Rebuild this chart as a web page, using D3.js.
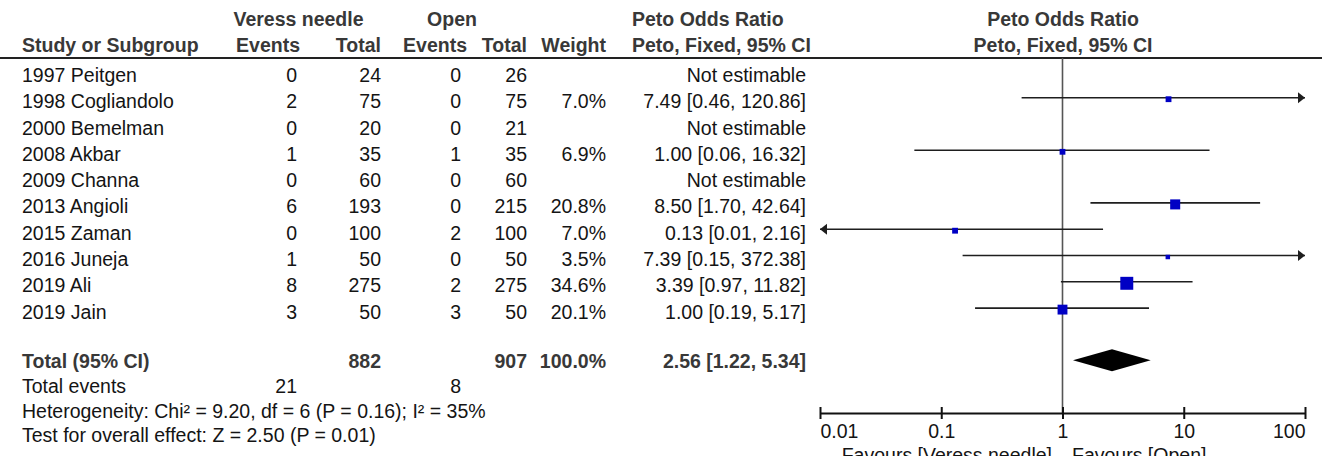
<!DOCTYPE html>
<html>
<head>
<meta charset="utf-8">
<script src="https://cdn.jsdelivr.net/npm/d3@7"></script>
<style>
  body { margin: 0; background: #fff; }
  svg { display: block; font-family: "Liberation Sans", Arial, sans-serif; }
</style>
</head>
<body>
<div id="forest"></div>
<script>
// study rows
const studies = ["1997 Peitgen", "1998 Cogliandolo", "2000 Bemelman", "2008 Akbar", "2009 Channa",
  "2013 Angioli", "2015 Zaman", "2016 Juneja", "2019 Ali", "2019 Jain"]
const veressEvents = [0, 2, 0, 1, 0, 6, 0, 1, 8, 3]
const veressTotal = [24, 75, 20, 35, 60, 193, 100, 50, 275, 50]
const openEvents = [0, 0, 0, 1, 0, 0, 2, 0, 2, 3]
const openTotal = [26, 75, 21, 35, 60, 215, 100, 50, 275, 50]
const weights = [null, 7.0, null, 6.9, null, 20.8, 7.0, 3.5, 34.6, 20.1]
const oddsRatio = [null, 7.49, null, 1.00, null, 8.50, 0.13, 7.39, 3.39, 1.00]
const ciLow = [null, 0.46, null, 0.06, null, 1.70, 0.01, 0.15, 0.97, 0.19]
const ciHigh = [null, 120.86, null, 16.32, null, 42.64, 2.16, 372.38, 11.82, 5.17]

// pooled result
const totalVeress = 882
const totalOpen = 907
const totalEventsVeress = 21
const totalEventsOpen = 8
const pooled = [2.56, 1.22, 5.34]
const pooledLabel = "2.56 [1.22, 5.34]"
const heterogeneity = "Heterogeneity: Chi² = 9.20, df = 6 (P = 0.16); I² = 35%"
const overallTest = "Test for overall effect: Z = 2.50 (P = 0.01)"

// axis
const axisTicks = [0.01, 0.1, 1, 10, 100]
const axisLabels = ["0.01", "0.1", "1", "10", "100"]

const width = 1322, height = 456
const fs = 19.5
const textCol = "#141414", headCol = "#383838"

const svg = d3.select("#forest").append("svg")
  .attr("width", width)
  .attr("height", height)

const x = d3.scaleLog().domain([0.01, 100]).range([820, 1305])
const y = d3.scalePoint().domain(d3.range(studies.length)).range([71.4, 308.1])
const totalY = 360.3
const axisY = 413

// column right edges (values / headers)
const col = { vEv: 297, vEvH: 300, vTot: 381, oEv: 461, oEvH: 467, oTot: 527, wt: 606, ci: 806 }

function txt(g, xx, yy, s, anchor, bold, color) {
  return g.append("text")
    .attr("x", xx).attr("y", yy)
    .attr("text-anchor", anchor || "start")
    .attr("font-size", fs)
    .attr("font-weight", bold ? "bold" : "normal")
    .attr("fill", color || textCol)
    .text(s)
}

// header
const head = svg.append("g")
txt(head, 298.5, 25.5, "Veress needle", "middle", true, headCol)
txt(head, 452, 25.5, "Open", "middle", true, headCol)
txt(head, 632, 25.5, "Peto Odds Ratio", "start", true, headCol)
txt(head, 1063, 25.5, "Peto Odds Ratio", "middle", true, headCol)
txt(head, 22, 52, "Study or Subgroup", "start", true, headCol)
txt(head, col.vEvH, 52, "Events", "end", true, headCol)
txt(head, col.vTot, 52, "Total", "end", true, headCol)
txt(head, col.oEvH, 52, "Events", "end", true, headCol)
txt(head, col.oTot, 52, "Total", "end", true, headCol)
txt(head, col.wt, 52, "Weight", "end", true, headCol)
txt(head, 632, 52, "Peto, Fixed, 95% CI", "start", true, headCol)
txt(head, 1063, 52, "Peto, Fixed, 95% CI", "middle", true, headCol)

svg.append("line")
  .attr("x1", 0).attr("x2", width)
  .attr("y1", 58).attr("y2", 58)
  .attr("stroke", "#222").attr("stroke-width", 2)

// null line
svg.append("line")
  .attr("x1", x(1)).attr("x2", x(1))
  .attr("y1", 58).attr("y2", axisY)
  .attr("stroke", "#555").attr("stroke-width", 1.6)

// table rows
const rowsG = svg.append("g")
studies.forEach((s, i) => {
  const by = y(i) + 10.5
  txt(rowsG, 22, by, s)
  txt(rowsG, col.vEv, by, veressEvents[i], "end")
  txt(rowsG, col.vTot, by, veressTotal[i], "end")
  txt(rowsG, col.oEv, by, openEvents[i], "end")
  txt(rowsG, col.oTot, by, openTotal[i], "end")
  if (weights[i] != null) {
    txt(rowsG, col.wt, by, weights[i].toFixed(1) + "%", "end")
    txt(rowsG, col.ci, by, oddsRatio[i].toFixed(2) + " [" + ciLow[i].toFixed(2) + ", " + ciHigh[i].toFixed(2) + "]", "end")
  } else {
    txt(rowsG, col.ci, by, "Not estimable", "end")
  }
})

// CI lines, arrows and squares
const [xMin, xMax] = x.domain()
const est = d3.range(studies.length).filter(i => weights[i] != null)
const plotG = svg.append("g")

plotG.selectAll(".ci")
  .data(est)
  .enter().append("line")
  .attr("class", "ci")
  .attr("x1", i => x(Math.max(ciLow[i], xMin)))
  .attr("x2", i => x(Math.min(ciHigh[i], xMax)))
  .attr("y1", i => y(i)).attr("y2", i => y(i))
  .attr("stroke", "#1e1e1e").attr("stroke-width", 1.6)

plotG.selectAll(".arrow-r")
  .data(est.filter(i => ciHigh[i] >= xMax))
  .enter().append("path")
  .attr("class", "arrow-r")
  .attr("d", i => {
    const ax = x(xMax), ay = y(i)
    return `M${ax},${ay} L${ax - 7},${ay - 5.5} L${ax - 7},${ay + 5.5} Z`
  })
  .attr("fill", "#1e1e1e")

plotG.selectAll(".arrow-l")
  .data(est.filter(i => ciLow[i] <= xMin))
  .enter().append("path")
  .attr("class", "arrow-l")
  .attr("d", i => {
    const ax = x(xMin), ay = y(i)
    return `M${ax},${ay} L${ax + 7},${ay - 5.5} L${ax + 7},${ay + 5.5} Z`
  })
  .attr("fill", "#1e1e1e")

const sz = i => Math.max(4.5, 2.2 * Math.sqrt(weights[i]))
plotG.selectAll(".sq")
  .data(est)
  .enter().append("rect")
  .attr("class", "sq")
  .attr("x", i => x(oddsRatio[i]) - sz(i) / 2)
  .attr("y", i => y(i) + 1.5 - sz(i) / 2)
  .attr("width", sz).attr("height", sz)
  .attr("fill", "#0000c4")

// total row
const tb = totalY + 7.5
txt(rowsG, 22, tb, "Total (95% CI)", "start", true, headCol)
txt(rowsG, col.vTot, tb, totalVeress, "end", true, headCol)
txt(rowsG, col.oTot, tb, totalOpen, "end", true, headCol)
txt(rowsG, col.wt, tb, "100.0%", "end", true, headCol)
txt(rowsG, col.ci, tb, pooledLabel, "end", true, headCol)

plotG.append("path")
  .attr("d", `M${x(pooled[1])},${totalY} L${x(pooled[0])},${totalY - 11} L${x(pooled[2])},${totalY} L${x(pooled[0])},${totalY + 11} Z`)
  .attr("fill", "#000")

txt(rowsG, 22, 393, "Total events")
txt(rowsG, col.vEv, 393, totalEventsVeress, "end")
txt(rowsG, col.oEv, 393, totalEventsOpen, "end")
txt(rowsG, 22, 417.5, heterogeneity)
txt(rowsG, 22, 442, overallTest)

// axis
const axis = d3.axisBottom(x)
  .tickValues(axisTicks)
  .tickFormat((d, i) => axisLabels[i])
  .tickSizeOuter(0)
  .tickSizeInner(6)

const axisG = svg.append("g")
  .attr("transform", `translate(0,${axisY})`)
  .call(axis)

axisG.select(".domain").attr("stroke", "#111").attr("stroke-width", 2)
axisG.selectAll(".tick line")
  .attr("y1", -6).attr("y2", 6)
  .attr("stroke", "#111").attr("stroke-width", 2)
axisG.selectAll(".tick text")
  .attr("y", 25).attr("dy", 0)
  .attr("font-size", fs)
  .attr("font-family", "Liberation Sans, Arial, sans-serif")
  .attr("fill", textCol)
  .attr("text-anchor", (d, i) => i === 0 ? "start" : (i === axisTicks.length - 1 ? "end" : "middle"))

txt(svg, 1052, 462, "Favours [Veress needle]", "end")
txt(svg, 1072, 462, "Favours [Open]", "start")
</script>
</body>
</html>
